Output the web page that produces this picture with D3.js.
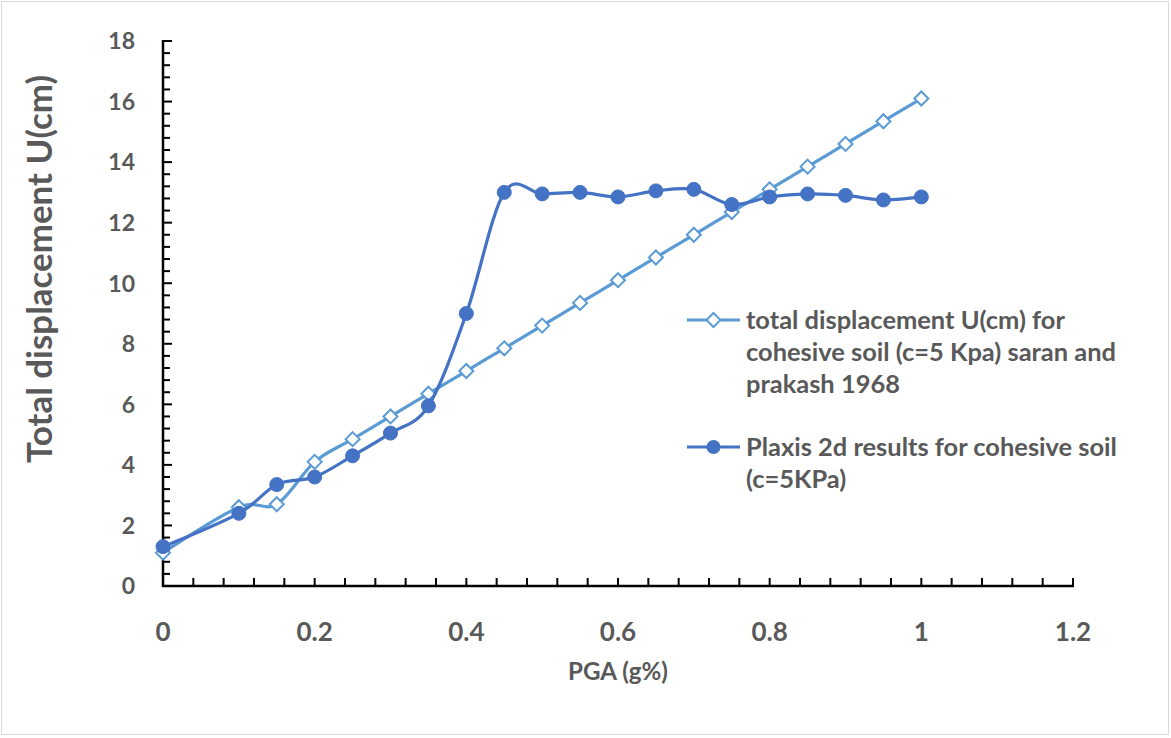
<!DOCTYPE html>
<html>
<head>
<meta charset="utf-8">
<script src="https://cdn.jsdelivr.net/npm/d3@7"></script>
<style>
  html, body { margin: 0; padding: 0; background: #fff; }
  svg { display: block; }
</style>
</head>
<body>
<svg id="chart" width="1171" height="738"></svg>
<script>
// PGA values (g%) shared by both series
const pga = [0, 0.1, 0.15, 0.2, 0.25, 0.3, 0.35, 0.4, 0.45, 0.5, 0.55, 0.6, 0.65, 0.7, 0.75, 0.8, 0.85, 0.9, 0.95, 1.0];
// Saran & Prakash (1968), cohesive soil c = 5 kPa
const saranPrakash = [1.1, 2.6, 2.7, 4.1, 4.85, 5.6, 6.35, 7.1, 7.85, 8.6, 9.35, 10.1, 10.85, 11.6, 12.35, 13.1, 13.85, 14.6, 15.35, 16.1];
// Plaxis 2D results, cohesive soil c = 5 kPa
const plaxis = [1.3, 2.4, 3.35, 3.6, 4.3, 5.05, 5.95, 9.0, 13.0, 12.95, 13.0, 12.85, 13.05, 13.1, 12.6, 12.85, 12.95, 12.9, 12.75, 12.85];

const xTicks = [0, 0.2, 0.4, 0.6, 0.8, 1, 1.2];
const yTicks = [0, 2, 4, 6, 8, 10, 12, 14, 16, 18];
const seriesNames = [
  ["total displacement U(cm) for", "cohesive soil (c=5 Kpa) saran and", "prakash 1968"],
  ["Plaxis 2d results for cohesive soil", "(c=5KPa)"]
];

const svg = d3.select("#chart");
const grey = "#595959";
const lightBlue = "#5B9BD5";
const darkBlue = "#4472C4";
const font = "Lato";

// scale a text's font size so its run spans the given width
function fitWidth(sel, width) {
  const base = +sel.attr("font-size");
  const w = sel.node().getComputedTextLength();
  if (w > 0) sel.attr("font-size", (base * width / w).toFixed(2));
}

// outer chart frame
svg.append("rect")
  .attr("x", 1.5).attr("y", 1.5).attr("width", 1167).attr("height", 733)
  .attr("fill", "#fff").attr("stroke", "#d9d9d9").attr("stroke-width", 1);

const x = d3.scaleLinear().domain([0, 1.2]).range([163, 1073]);
const y = d3.scaleLinear().domain([0, 18]).range([586, 41]);

// axes: ticks point into the plot
const axisG = svg.append("g");
// minor y ticks every 0.4
const yMinor = d3.range(0, 18.001, 0.4).map(v => +v.toFixed(2));
axisG.selectAll(".ym").data(yMinor).join("line")
  .attr("x1", x(0)).attr("x2", d => x(0) + (Math.abs(d / 2 - Math.round(d / 2)) < 1e-6 ? 9 : 7))
  .attr("y1", d => y(d)).attr("y2", d => y(d))
  .attr("stroke", "#000").attr("stroke-width", 2);
// minor x ticks every 0.04
const xMinor = d3.range(0, 1.2001, 0.04).map(v => +v.toFixed(2));
axisG.selectAll(".xm").data(xMinor).join("line")
  .attr("x1", d => x(d)).attr("x2", d => x(d))
  .attr("y1", y(0)).attr("y2", y(0) - 8)
  .attr("stroke", "#000").attr("stroke-width", 2);
// axis lines
axisG.append("line").attr("x1", x(0)).attr("x2", x(0)).attr("y1", y(0) + 1).attr("y2", y(18) - 1)
  .attr("stroke", "#000").attr("stroke-width", 2.5);
axisG.append("line").attr("x1", x(0) - 1).attr("x2", x(1.2) + 1).attr("y1", y(0)).attr("y2", y(0))
  .attr("stroke", "#000").attr("stroke-width", 2.5);

// tick labels
axisG.selectAll(".yl").data(yTicks).join("text")
  .attr("x", 135).attr("y", d => y(d)).attr("dy", "0.36em")
  .attr("text-anchor", "end")
  .attr("font-family", font).attr("font-weight", "bold").attr("font-size", 23)
  .attr("fill", grey).text(d => d);
axisG.selectAll(".xl").data(xTicks).join("text")
  .attr("x", d => x(d)).attr("y", 641)
  .attr("text-anchor", "middle")
  .attr("font-family", font).attr("font-weight", "bold").attr("font-size", 26)
  .attr("fill", grey).text(d => d);

// axis titles
const yTitle = svg.append("text")
  .attr("transform", `translate(52,269) rotate(-90)`)
  .attr("text-anchor", "middle")
  .attr("font-family", font).attr("font-weight", "bold").attr("font-size", 30)
  .attr("fill", grey).text("Total displacement U(cm)");
fitWidth(yTitle, 388);
const xTitle = svg.append("text")
  .attr("x", 618).attr("y", 680)
  .attr("text-anchor", "middle")
  .attr("font-family", font).attr("font-weight", "bold").attr("font-size", 19)
  .attr("fill", grey).text("PGA (g%)");
fitWidth(xTitle, 100);

// smoothed series lines
const line = d3.line().x(d => x(d[0])).y(d => y(d[1])).curve(d3.curveCardinal.tension(0));
const s1 = pga.map((p, i) => [p, saranPrakash[i]]);
const s2 = pga.map((p, i) => [p, plaxis[i]]);

const diamond = (cx, cy, r) => `M${cx},${cy - r}L${cx + r},${cy}L${cx},${cy + r}L${cx - r},${cy}Z`;

svg.append("path").datum(s1).attr("d", line)
  .attr("fill", "none").attr("stroke", lightBlue).attr("stroke-width", 3.2);
svg.selectAll(".dm").data(s1).join("path")
  .attr("d", d => diamond(x(d[0]), y(d[1]), 7))
  .attr("fill", "#fff").attr("stroke", lightBlue).attr("stroke-width", 2);

svg.append("path").datum(s2).attr("d", line)
  .attr("fill", "none").attr("stroke", darkBlue).attr("stroke-width", 3.2);
svg.selectAll(".ci").data(s2).join("circle")
  .attr("cx", d => x(d[0])).attr("cy", d => y(d[1])).attr("r", 7)
  .attr("fill", darkBlue).attr("stroke", darkBlue).attr("stroke-width", 1);

// legend
const legendItems = [
  { lines: seriesNames[0], color: lightBlue, marker: "diamond", y: 320 },
  { lines: seriesNames[1], color: darkBlue, marker: "circle", y: 447 }
];
const lg = svg.append("g");
// size legend type from the first line's run
const probe = lg.append("text")
  .attr("font-family", font).attr("font-weight", "bold").attr("font-size", 21)
  .text(seriesNames[0][0]);
fitWidth(probe, 319);
const legendSize = +probe.attr("font-size");
probe.remove();

legendItems.forEach(item => {
  lg.append("line").attr("x1", 687).attr("x2", 740).attr("y1", item.y).attr("y2", item.y)
    .attr("stroke", item.color).attr("stroke-width", 3.2);
  if (item.marker === "diamond") {
    lg.append("path").attr("d", diamond(713.5, item.y, 7))
      .attr("fill", "#fff").attr("stroke", item.color).attr("stroke-width", 2);
  } else {
    lg.append("circle").attr("cx", 713.5).attr("cy", item.y).attr("r", 7).attr("fill", item.color);
  }
  const t = lg.append("text")
    .attr("x", 746).attr("y", item.y)
    .attr("font-family", font).attr("font-weight", "bold").attr("font-size", legendSize)
    .attr("fill", grey);
  item.lines.forEach((l, i) => {
    t.append("tspan").attr("x", 746).attr("y", item.y + i * 32).attr("dy", "0.35em").text(l);
  });
});
</script>
</body>
</html>
